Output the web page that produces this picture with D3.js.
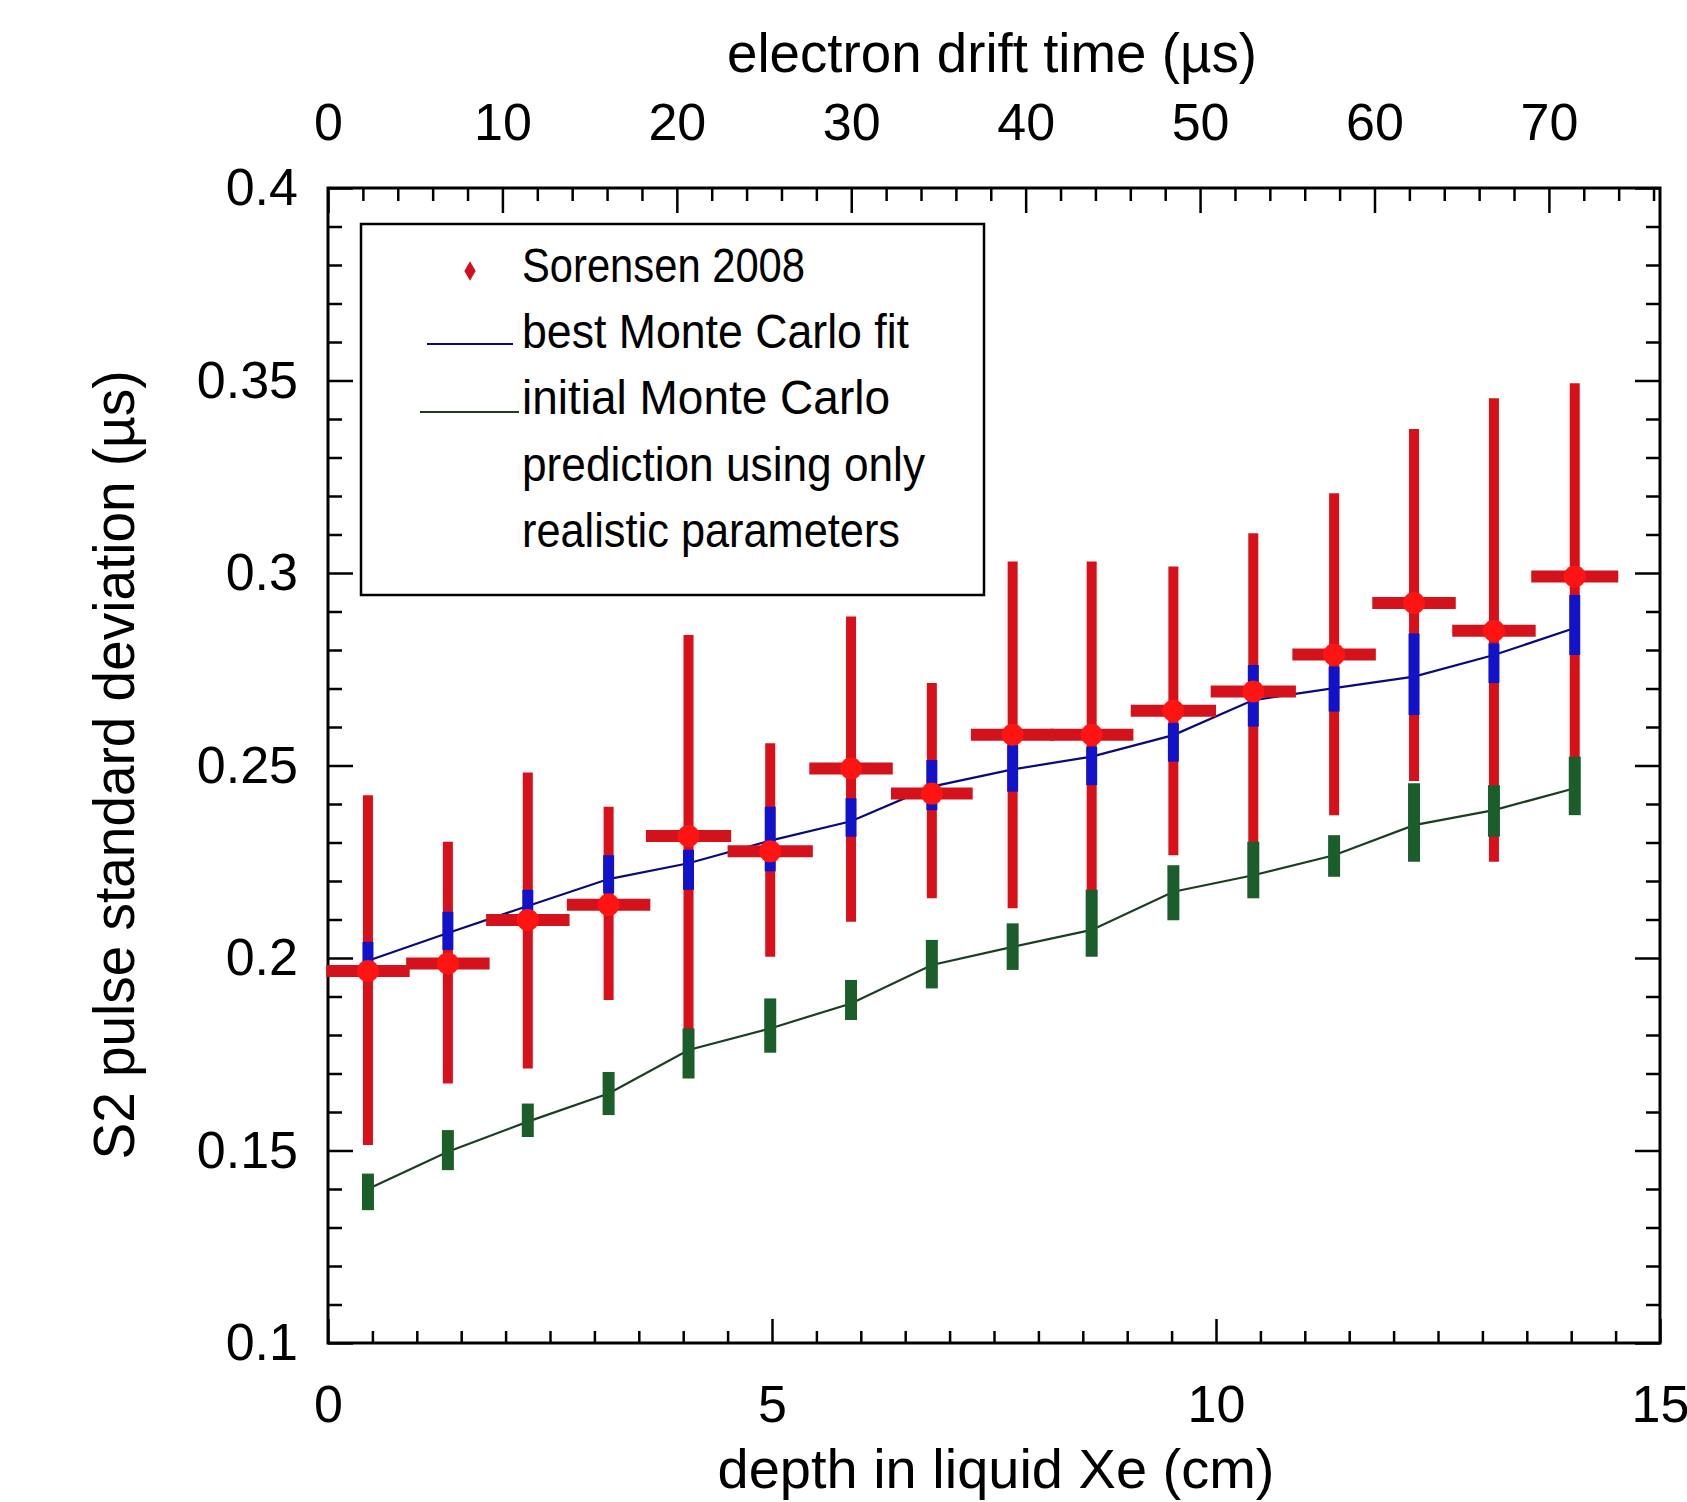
<!DOCTYPE html>
<html>
<head>
<meta charset="utf-8">
<script src="https://cdn.jsdelivr.net/npm/d3@7"></script>
<style>
  body { margin: 0; background: #fff; }
  svg { display: block; }
  text { font-family: "Liberation Sans", Arial, Helvetica, sans-serif; fill: #000; }
</style>
</head>
<body>
<div id="chart"></div>
<script>
// depth bins (cm) and measured S2 widths (Sorensen 2008)
var depth    = [0.45, 1.35, 2.25, 3.16, 4.06, 4.98, 5.89, 6.80, 7.71, 8.60, 9.52, 10.42, 11.33, 12.23, 13.13, 14.04];
var sigma    = [0.1966, 0.1986, 0.2099, 0.2138, 0.2317, 0.2277, 0.2492, 0.2427, 0.2580, 0.2580, 0.2642, 0.2692, 0.2788, 0.2922, 0.2850, 0.2991];
var sigmaHi  = [0.2423, 0.2302, 0.2482, 0.2393, 0.2839, 0.2558, 0.2887, 0.2714, 0.3030, 0.3030, 0.3017, 0.3103, 0.3207, 0.3374, 0.3454, 0.3493];
var sigmaLo  = [0.1514, 0.1674, 0.1713, 0.1891, 0.1790, 0.2003, 0.2094, 0.2155, 0.2129, 0.2150, 0.2267, 0.2280, 0.2371, 0.2460, 0.2250, 0.2510];
var depthErr = [0.47, 0.47, 0.47, 0.47, 0.48, 0.48, 0.47, 0.46, 0.47, 0.47, 0.48, 0.48, 0.47, 0.47, 0.47, 0.49];

// best Monte Carlo fit
var mcBest   = [0.1993, 0.2065, 0.2135, 0.2205, 0.2246, 0.2305, 0.2355, 0.2445, 0.2490, 0.2523, 0.2579, 0.2670, 0.2701, 0.2731, 0.2787, 0.2857];
var mcBestLo = [0.1950, 0.2021, 0.2085, 0.2168, 0.2177, 0.2225, 0.2315, 0.2384, 0.2432, 0.2449, 0.2510, 0.2601, 0.2640, 0.2631, 0.2714, 0.2787];
var mcBestHi = [0.2042, 0.2120, 0.2177, 0.2267, 0.2281, 0.2393, 0.2415, 0.2514, 0.2553, 0.2549, 0.2610, 0.2761, 0.2757, 0.2843, 0.2817, 0.2943];

// initial Monte Carlo prediction
var mcInit   = [0.1400, 0.1497, 0.1575, 0.1648, 0.1761, 0.1817, 0.1882, 0.1982, 0.2029, 0.2073, 0.2172, 0.2215, 0.2267, 0.2345, 0.2384, 0.2441];
var mcInitLo = [0.1345, 0.1449, 0.1535, 0.1592, 0.1687, 0.1754, 0.1839, 0.1921, 0.1969, 0.2003, 0.2098, 0.2155, 0.2211, 0.2250, 0.2315, 0.2371];
var mcInitHi = [0.1440, 0.1553, 0.1622, 0.1704, 0.1817, 0.1895, 0.1943, 0.2047, 0.2090, 0.2177, 0.2241, 0.2302, 0.2319, 0.2454, 0.2449, 0.2523];

var yTicks     = [0.1, 0.15, 0.2, 0.25, 0.3, 0.35, 0.4];
var depthTicks = [0, 5, 10, 15];
var driftTicks = [0, 10, 20, 30, 40, 50, 60, 70];
var driftMax   = 76.37;   // drift time (µs) at 15 cm

var legendLines = ["Sorensen 2008", "best Monte Carlo fit", "initial Monte Carlo", "prediction using only", "realistic parameters"];

var W = 1687, H = 1502;
var pL = 328, pR = 1660, pT = 188, pB = 1343;

var svg = d3.select("#chart").append("svg")
    .attr("width", W)
    .attr("height", H);

var x = d3.scaleLinear().domain([0, 15]).range([pL, pR]);
var xt = d3.scaleLinear().domain([0, driftMax]).range([pL, pR]);
var y = d3.scaleLinear().domain([0.1, 0.4]).range([pB, pT]);

var pts = depth.map(function(d, i) {
  return {x: d, y: sigma[i], lo: sigmaLo[i], hi: sigmaHi[i], dx: depthErr[i],
          b: mcBest[i], bLo: mcBestLo[i], bHi: mcBestHi[i],
          g: mcInit[i], gLo: mcInitLo[i], gHi: mcInitHi[i]};
});

// ---- axes (ticks point inward) ----
function styleAxis(g) {
  g.select(".domain").remove();
  g.selectAll("line").attr("stroke", "#000").attr("stroke-width", 2.5);
  g.selectAll("text").attr("font-size", 52).attr("fill", "#000")
    .attr("font-family", "'Liberation Sans', Arial, sans-serif");
}

var yMinor = d3.range(0.11, 0.4, 0.01).filter(function(v) { return Math.abs(v * 20 - Math.round(v * 20)) > 1e-6; });
var xMinor = d3.range(0.5, 15, 0.5).filter(function(v) { return v % 5 !== 0; });
var tMinor = d3.range(2, driftMax, 2).filter(function(v) { return v % 10 !== 0; });

svg.append("g").attr("transform", "translate(" + pL + ",0)")
  .call(d3.axisLeft(y).tickValues(yMinor).tickSize(-14).tickFormat("")).call(styleAxis);
svg.append("g").attr("transform", "translate(" + pL + ",0)")
  .call(d3.axisLeft(y).tickValues(yTicks).tickSize(-25).tickPadding(30).tickFormat(function(d) { return String(+d.toFixed(2)); }))
  .call(styleAxis);
svg.append("g").attr("transform", "translate(" + pR + ",0)")
  .call(d3.axisRight(y).tickValues(yMinor).tickSize(-14).tickFormat("")).call(styleAxis);
svg.append("g").attr("transform", "translate(" + pR + ",0)")
  .call(d3.axisRight(y).tickValues(yTicks).tickSize(-25).tickFormat("")).call(styleAxis);

svg.append("g").attr("transform", "translate(0," + pB + ")")
  .call(d3.axisBottom(x).tickValues(xMinor).tickSize(-12).tickFormat("")).call(styleAxis);
svg.append("g").attr("transform", "translate(0," + pB + ")")
  .call(d3.axisBottom(x).tickValues(depthTicks).tickSize(-24).tickPadding(42).tickFormat(d3.format("d")))
  .call(styleAxis);

svg.append("g").attr("transform", "translate(0," + pT + ")")
  .call(d3.axisTop(xt).tickValues(tMinor).tickSize(-13).tickFormat("")).call(styleAxis);
svg.append("g").attr("transform", "translate(0," + pT + ")")
  .call(d3.axisTop(xt).tickValues(driftTicks).tickSize(-25).tickPadding(48).tickFormat(d3.format("d")))
  .call(styleAxis);

// frame
svg.append("rect")
    .attr("x", pL).attr("y", pT)
    .attr("width", pR - pL).attr("height", pB - pT)
    .attr("fill", "none").attr("stroke", "#000").attr("stroke-width", 3);

// ---- axis titles ----
svg.append("text")
    .attr("x", (pL + pR) / 2 - 2).attr("y", 72)
    .attr("text-anchor", "middle").attr("font-size", 55)
    .attr("textLength", 530).attr("lengthAdjust", "spacingAndGlyphs")
    .text("electron drift time (µs)");

svg.append("text")
    .attr("x", (pL + pR) / 2 + 2).attr("y", 1488)
    .attr("text-anchor", "middle").attr("font-size", 55)
    .attr("textLength", 557).attr("lengthAdjust", "spacingAndGlyphs")
    .text("depth in liquid Xe (cm)");

svg.append("text")
    .attr("transform", "translate(134,765) rotate(-90)")
    .attr("text-anchor", "middle").attr("font-size", 57)
    .attr("textLength", 789).attr("lengthAdjust", "spacingAndGlyphs")
    .text("S2 pulse standard deviation (µs)");

// ---- model lines ----
var lineB = d3.line().x(function(d) { return x(d.x); }).y(function(d) { return y(d.b); });
var lineG = d3.line().x(function(d) { return x(d.x); }).y(function(d) { return y(d.g); });

svg.append("path").datum(pts).attr("d", lineG)
    .attr("fill", "none").attr("stroke", "#1c3d22").attr("stroke-width", 2.2);
svg.append("path").datum(pts).attr("d", lineB)
    .attr("fill", "none").attr("stroke", "#0a0a78").attr("stroke-width", 2.2);

// ---- data vertical error bars ----
svg.append("g").selectAll("line").data(pts).enter().append("line")
    .attr("x1", function(d) { return x(d.x); }).attr("x2", function(d) { return x(d.x); })
    .attr("y1", function(d) { return y(d.hi); }).attr("y2", function(d) { return y(d.lo); })
    .attr("stroke", "#d8101a").attr("stroke-width", 10);

// green and blue MC error bars
svg.append("g").selectAll("line").data(pts).enter().append("line")
    .attr("x1", function(d) { return x(d.x); }).attr("x2", function(d) { return x(d.x); })
    .attr("y1", function(d) { return y(d.gHi); }).attr("y2", function(d) { return y(d.gLo); })
    .attr("stroke", "#1b5e2c").attr("stroke-width", 12);

svg.append("g").selectAll("line").data(pts).enter().append("line")
    .attr("x1", function(d) { return x(d.x); }).attr("x2", function(d) { return x(d.x); })
    .attr("y1", function(d) { return y(d.bHi); }).attr("y2", function(d) { return y(d.bLo); })
    .attr("stroke", "#1212c8").attr("stroke-width", 11);

// horizontal (bin width) bars
svg.append("g").selectAll("line").data(pts).enter().append("line")
    .attr("x1", function(d) { return x(d.x - d.dx); }).attr("x2", function(d) { return x(d.x + d.dx); })
    .attr("y1", function(d) { return y(d.y); }).attr("y2", function(d) { return y(d.y); })
    .attr("stroke", "#d4121c").attr("stroke-width", 12);

// markers
svg.append("g").selectAll("circle").data(pts).enter().append("circle")
    .attr("cx", function(d) { return x(d.x); }).attr("cy", function(d) { return y(d.y); })
    .attr("r", 11).attr("fill", "#ff1414");

// ---- legend ----
var lg = svg.append("g");
lg.append("rect")
    .attr("x", 361).attr("y", 224).attr("width", 623).attr("height", 371)
    .attr("fill", "#fff").attr("stroke", "#000").attr("stroke-width", 2.5);

lg.append("path")
    .attr("d", d3.symbol().type(d3.symbolDiamond).size(110))
    .attr("transform", "translate(470,271)")
    .attr("fill", "#d0101c");
lg.append("line").attr("x1", 427).attr("x2", 513).attr("y1", 344).attr("y2", 344)
    .attr("stroke", "#0a0a78").attr("stroke-width", 2.2);
lg.append("line").attr("x1", 420).attr("x2", 519).attr("y1", 412).attr("y2", 412)
    .attr("stroke", "#1c3d22").attr("stroke-width", 2.2);

var legendLen = [283, 387, 368, 403, 378];
var legendY = [282, 348, 414, 481, 547];
lg.selectAll("text.leg").data(legendLines).enter().append("text")
    .attr("class", "leg")
    .attr("x", 522).attr("y", function(d, i) { return legendY[i]; })
    .attr("font-size", 49)
    .attr("textLength", function(d, i) { return legendLen[i]; })
    .attr("lengthAdjust", "spacingAndGlyphs")
    .text(function(d) { return d; });
</script>
</body>
</html>
